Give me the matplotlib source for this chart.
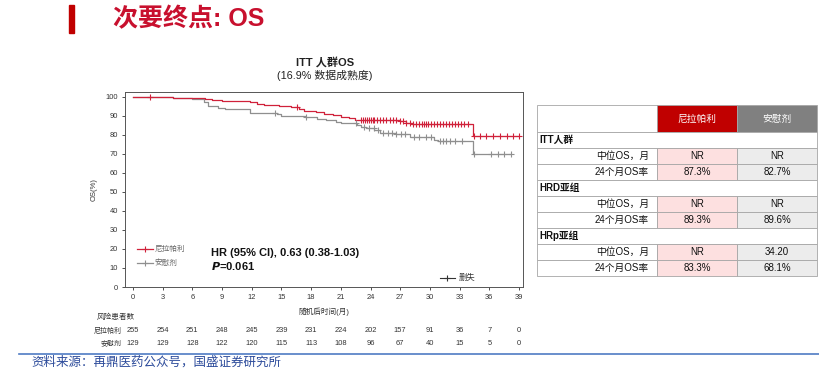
import matplotlib
matplotlib.use("Agg")
import matplotlib.pyplot as plt
from matplotlib.patches import Rectangle

plt.rcParams['font.family'] = ['Liberation Sans', 'Noto Sans CJK SC', 'DejaVu Sans']

# ---------------- data ----------------
red_t = [0, 4.0, 6.5, 7.3, 8.0, 9.0, 10.5, 11.8, 12.5, 13.2, 14.0, 14.8, 16.0, 16.8,
         17.3, 18.5, 19.3, 20.2, 21.0, 21.8, 22.4, 26.0, 27.0, 27.6, 28.2, 34.4, 39.0]
red_s = [100, 99.6, 99.2, 98.8, 98.5, 98.1, 97.7, 97.2, 96.5, 96.0, 95.5, 95.0, 94.6, 93.8,
         92.5, 92.0, 91.2, 90.5, 89.6, 89.0, 88.1, 87.7, 87.1, 86.3, 85.6, 79.7, 79.7]
red_cens = [1.7, 16.6, 23.0, 23.2, 23.4, 23.6, 23.8, 24.0, 24.2, 24.4, 24.7, 25.0, 25.3,
            25.6, 26.0, 26.3, 26.6, 27.0, 27.3, 27.6, 28.0, 28.3, 28.6, 28.9, 29.2, 29.4,
            29.6, 29.8, 30.1, 30.4, 30.7, 31.0, 31.3, 31.6, 31.9, 32.2, 32.5, 32.8, 33.1,
            33.4, 33.8, 34.5, 35.1, 35.7, 36.4, 37.1, 37.8, 38.4, 39.0]

gray_t = [0, 4.0, 6.0, 7.2, 7.6, 8.6, 9.3, 11.8, 14.6, 15.0, 17.4, 18.6, 19.5, 20.5, 21.0,
          22.6, 23.0, 23.5, 24.4, 25.0, 26.6, 28.0, 30.4, 30.8, 34.4, 38.2]
gray_s = [100, 99.6, 99.0, 97.6, 95.3, 94.4, 93.6, 91.8, 91.0, 90.2, 89.4, 88.6, 87.9, 87.0,
          86.2, 85.4, 84.2, 83.4, 82.5, 81.0, 80.3, 78.9, 77.4, 76.9, 69.9, 69.9]
gray_cens = [14.4, 17.5, 22.5, 23.3, 23.8, 24.3, 24.8, 25.3, 25.8, 26.2, 26.6, 27.1, 27.5,
             28.4, 28.9, 29.6, 30.1, 31.0, 31.3, 31.6, 32.0, 32.5, 33.2, 34.5, 36.2, 36.9,
             37.5, 38.2]

x_ticks = [0, 3, 6, 9, 12, 15, 18, 21, 24, 27, 30, 33, 36, 39]
y_ticks = [0, 10, 20, 30, 40, 50, 60, 70, 80, 90, 100]
risk_red = [255, 254, 251, 248, 245, 239, 231, 224, 202, 157, 91, 36, 7, 0]
risk_gray = [129, 129, 128, 122, 120, 115, 113, 108, 96, 67, 40, 15, 5, 0]
arm_names = ['尼拉帕利', '安慰剂']

tbl_groups = ['ITT人群', 'HRD亚组', 'HRp亚组']
tbl_rowlabels = ['中位OS，月', '24个月OS率']
tbl_red = [['NR', '87.3%'], ['NR', '89.3%'], ['NR', '83.3%']]
tbl_gray = [['NR', '82.7%'], ['NR', '89.6%'], ['34.20', '68.1%']]

RED = '#d0213a'
GRAY = '#8f8f8f'

W, H = 819, 371
fig = plt.figure(figsize=(W / 100, H / 100), dpi=100)


def fx(x):
    return x / W


def fy(y):
    return 1 - y / H


def px_axes(x0, y0, x1, y1):
    return [fx(x0), fy(y1), fx(x1) - fx(x0), fy(y0) - fy(y1)]


# ---------------- header ----------------
fig.patches.append(Rectangle((fx(69), fy(33)), fx(5), fy(5) - fy(33),
                             transform=fig.transFigure, color='#c00000'))
fig.text(fx(113), fy(19), '次要终点: OS', fontsize=18, fontweight='bold',
         color='#c8102e', va='center', ha='left')

fig.text(fx(325), fy(62), 'ITT 人群OS', fontsize=8, fontweight='bold',
         ha='center', va='center', color='#222222')
fig.text(fx(325), fy(75.5), '(16.9% 数据成熟度)', fontsize=7.8,
         ha='center', va='center', color='#222222')

# ---------------- KM plot ----------------
ax = fig.add_axes(px_axes(125, 92, 523, 287))
ax.step(red_t, red_s, where='post', color=RED, lw=0.9, zorder=3)
ax.step(gray_t, gray_s, where='post', color=GRAY, lw=0.9, zorder=2)


def surv_at(ts, ss, t):
    v = ss[0]
    for ti, si in zip(ts, ss):
        if ti <= t:
            v = si
    return v


ax.plot(red_cens, [surv_at(red_t, red_s, c) for c in red_cens], ls='none', marker='+',
        ms=4.5, mew=0.8, color=RED, zorder=4)
ax.plot(gray_cens, [surv_at(gray_t, gray_s, c) for c in gray_cens], ls='none', marker='+',
        ms=4.5, mew=0.8, color=GRAY, zorder=3)

ax.set_xlim(-0.8, 39.4)
ax.set_ylim(0, 102.6)
ax.set_xticks(x_ticks)
ax.set_yticks(y_ticks)
ax.tick_params(labelsize=5.4, length=2, width=0.6, colors='#333333', pad=3)
for s in ax.spines.values():
    s.set_color('#555555')
    s.set_linewidth(0.7)
ax.set_ylabel('OS(%)', fontsize=5.5, color='#333333', labelpad=6)
ax.set_xlabel('随机后时间(月)', fontsize=5.5, color='#333333', labelpad=5)

# legend (drawn manually)
ax.plot([0.4, 2.0], [20, 20], color=RED, lw=0.9)
ax.plot([1.2], [20], marker='+', color=RED, ms=4.5, mew=0.8)
ax.text(2.2, 20, arm_names[0], fontsize=5.5, color='#666666', va='center')
ax.plot([0.4, 2.0], [12.5, 12.5], color=GRAY, lw=0.9)
ax.plot([1.2], [12.5], marker='+', color=GRAY, ms=4.5, mew=0.8)
ax.text(2.2, 12.5, arm_names[1], fontsize=5.5, color='#666666', va='center')

ax.plot([31.0, 32.5], [4.5, 4.5], color='#333333', lw=0.8)
ax.plot([31.75], [4.5], marker='+', color='#333333', ms=4.5, mew=0.8)
ax.text(32.9, 4.5, '删失', fontsize=6, color='#333333', va='center')

ax.text(7.9, 17.8, 'HR (95% CI), 0.63 (0.38-1.03)', fontsize=8, fontweight='bold',
        color='#111111', va='center')
ax.text(7.9, 11.0, r'$\bfit{P}$' + '=0.061', fontsize=8, fontweight='bold',
        color='#111111', va='center')

# ---------------- risk table ----------------
fig.text(fx(97), fy(317), '风险患者数', fontsize=5.5, color='#333333', va='center')
fig.text(fx(122), fy(331), arm_names[0], fontsize=5, color='#333333', va='center', ha='right')
fig.text(fx(122), fy(343.5), arm_names[1], fontsize=5, color='#333333', va='center', ha='right')
for t, a, b in zip(x_ticks, risk_red, risk_gray):
    xp = ax.transData.transform((t, 0))[0]
    xf = fig.transFigure.inverted().transform((xp, 0))[0]
    fig.text(xf, fy(331), str(a), fontsize=5.4, color='#333333', ha='center', va='center')
    fig.text(xf, fy(343.5), str(b), fontsize=5.4, color='#333333', ha='center', va='center')

# ---------------- footer ----------------
fig.add_artist(plt.Line2D([fx(19), fx(819)], [fy(353.5), fy(353.5)],
                          transform=fig.transFigure, color='#4f7cc4', lw=1.2))
fig.text(fx(31), fy(362.5), '资料来源：再鼎医药公众号，国盛证券研究所', fontsize=9,
         color='#2b4a9a', va='center', ha='left', style='italic')

# ---------------- summary table ----------------
tx0, tx1, tx2, tx3 = 537, 657, 737, 817
ty0 = 105
hdr_h = 27
row_h = 16
tax = fig.add_axes(px_axes(530, 95, 819, 285))
tax.set_xlim(530, 819)
tax.set_ylim(285, 95)
tax.axis('off')
edge = '#a6a6a6'


def cell(x0, y0, w, h, fc):
    tax.add_patch(Rectangle((x0, y0), w, h, facecolor=fc, edgecolor=edge, lw=0.6))


# header
cell(tx0, ty0, tx1 - tx0, hdr_h, 'white')
cell(tx1, ty0, tx2 - tx1, hdr_h, '#c00000')
cell(tx2, ty0, tx3 - tx2, hdr_h, '#808080')
tax.text((tx1 + tx2) / 2, ty0 + hdr_h / 2, arm_names[0], color='white', fontsize=7,
         ha='center', va='center')
tax.text((tx2 + tx3) / 2, ty0 + hdr_h / 2, arm_names[1], color='white', fontsize=7,
         ha='center', va='center')

y = ty0 + hdr_h
for g, rv, gv in zip(tbl_groups, tbl_red, tbl_gray):
    cell(tx0, y, tx3 - tx0, row_h, 'white')
    tax.text(tx0 + 2, y + row_h / 2, g, fontsize=7, fontweight='bold', ha='left',
             va='center', color='#111111')
    y += row_h
    for lab, a, b in zip(tbl_rowlabels, rv, gv):
        cell(tx0, y, tx1 - tx0, row_h, 'white')
        cell(tx1, y, tx2 - tx1, row_h, '#fde0e0')
        cell(tx2, y, tx3 - tx2, row_h, '#ececec')
        tax.text(tx1 - 8, y + row_h / 2, lab, fontsize=7, ha='right', va='center',
                 color='#111111')
        tax.text((tx1 + tx2) / 2, y + row_h / 2, a, fontsize=7, ha='center',
                 va='center', color='#111111')
        tax.text((tx2 + tx3) / 2, y + row_h / 2, b, fontsize=7, ha='center',
                 va='center', color='#111111')
        y += row_h

fig.savefig('out.png', dpi=100)
